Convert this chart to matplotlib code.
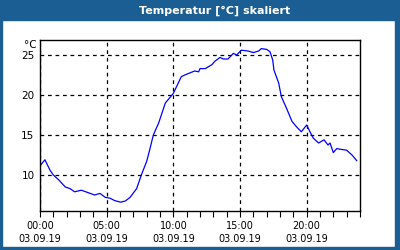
import numpy as np
import matplotlib
matplotlib.use('Agg')
from matplotlib import pyplot as plt

# hours since 00:00 and temperature in degC
hours = [0.05, 0.37, 0.75, 1.0, 1.4, 1.9, 2.25, 2.6, 3.1, 3.6, 4.1, 4.5, 4.9, 5.25,
         5.6, 6.05, 6.4, 6.75, 7.25, 7.6, 8.0, 8.25, 8.5, 8.9, 9.4, 10.0, 10.6, 11.0,
         11.6, 11.9, 12.0, 12.4, 12.9, 13.1, 13.5, 13.75, 14.1, 14.5, 14.75, 15.1,
         15.6, 16.0, 16.4, 16.6, 17.0, 17.25, 17.45, 17.55, 17.9, 18.1, 18.5, 18.9,
         19.25, 19.6, 20.0, 20.25, 20.5, 20.9, 21.3, 21.6, 21.75, 22.0, 22.25, 22.6,
         23.0, 23.4, 23.75]
temp = [11.25, 11.9, 10.6, 10.0, 9.4, 8.5, 8.3, 7.9, 8.1, 7.8, 7.5, 7.7, 7.2, 7.1,
        6.8, 6.6, 6.75, 7.2, 8.3, 10.0, 11.7, 13.3, 15.0, 16.5, 19.0, 20.2, 22.3, 22.6,
        23.0, 22.9, 23.3, 23.3, 23.8, 24.2, 24.7, 24.5, 24.5, 25.2, 25.0, 25.6,
        25.5, 25.3, 25.5, 25.8, 25.7, 25.4, 24.4, 23.1, 21.5, 19.8, 18.3, 16.7,
        16.0, 15.4, 16.25, 15.4, 14.6, 14.0, 14.4, 13.75, 14.0, 12.8, 13.3, 13.2,
        13.1, 12.5, 11.8]

xticks = [0, 5, 10, 15, 20]
xlabels = ['00:00\n03.09.19', '05:00\n03.09.19', '10:00\n03.09.19',
           '15:00\n03.09.19', '20:00\n03.09.19']
yticks = [10, 15, 20, 25]

blue = '#1b5e94'
W, H = 400, 250

fig = plt.figure(figsize=(4, 2.5), dpi=100)
fig.patch.set_facecolor('white')

# frame + title bar
frame = fig.add_axes([0, 0, 1, 1])
frame.set_xlim(0, W)
frame.set_ylim(H, 0)
frame.axis('off')
frame.add_patch(plt.Rectangle((0, 0), W, 20, color=blue))
frame.add_patch(plt.Rectangle((0, 0), 2, H, color=blue))
frame.add_patch(plt.Rectangle((395, 0), 5, H, color=blue))
frame.add_patch(plt.Rectangle((0, 247), W, 3, color=blue))
frame.text(215, 10.5, 'Temperatur [°C] skaliert', color='white', fontsize=8,
           fontweight='bold', ha='center', va='center')

ax = fig.add_axes([40/W, 1-211/H, 320/W, 171/H])
ax.plot(hours, temp, color='#0000ff', lw=0.9)
ax.set_xlim(0, 24)
ax.set_ylim(5.5, 26.875)

ax.set_xticks(xticks)
ax.set_xticklabels(xlabels, fontsize=7, linespacing=1.45)
ax.set_xticks(range(0, 25), minor=True)
ax.set_yticks(yticks)
ax.set_yticklabels([str(v) for v in yticks], fontsize=7.5)
ax.tick_params(axis='x', which='both', direction='out', length=4, width=0.8, pad=3)
ax.tick_params(axis='y', length=0, pad=4)
for s in ax.spines.values():
    s.set_linewidth(1)
ax.grid(True, which='major', color='black', linestyle=(0, (3, 3)), lw=0.9)

frame.text(37, 45, '°C', fontsize=7.5, ha='right', va='center')

plt.savefig('out.png', dpi=100)
